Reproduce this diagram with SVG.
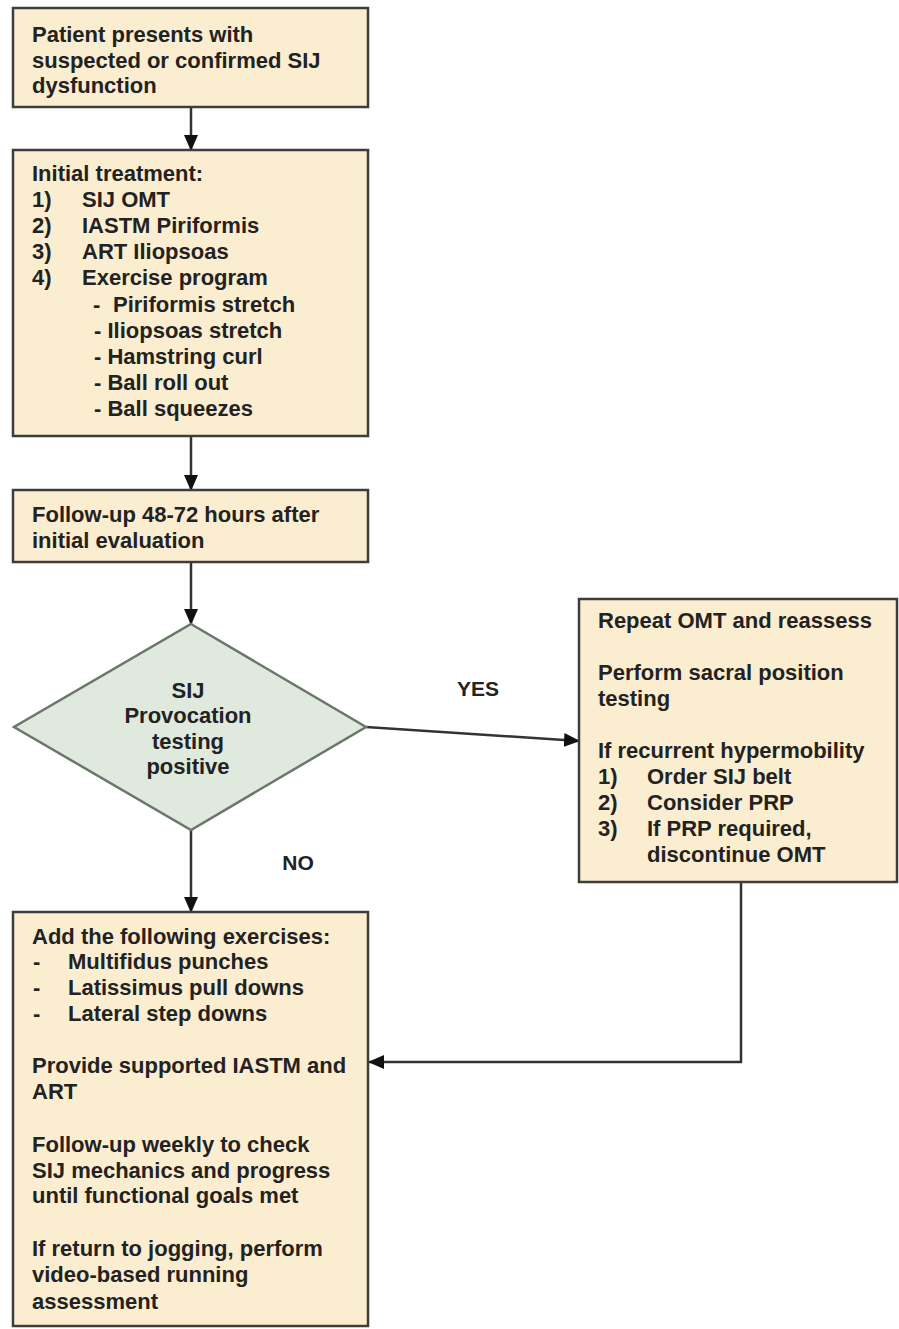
<svg xmlns="http://www.w3.org/2000/svg" width="899" height="1329" viewBox="0 0 899 1329">
<defs>
<style>
.box{fill:#fbedd0;stroke:#3d3d3d;stroke-width:2.5}
.dia{fill:#dfe9dd;stroke:#6b776b;stroke-width:2.5}
.t{font-family:"Liberation Sans",Arial,sans-serif;font-weight:bold;font-size:22px;fill:#222}
.c{text-anchor:middle}
.lbl{font-family:"Liberation Sans",Arial,sans-serif;font-weight:bold;font-size:21px;fill:#222;text-anchor:middle}
.conn{fill:none;stroke:#333;stroke-width:2.5}
</style>
<marker id="arr" markerUnits="userSpaceOnUse" markerWidth="16" markerHeight="14" refX="15" refY="7" orient="auto">
<path d="M0,0 L16,7 L0,14 z" fill="#111"/>
</marker>
</defs>
<rect width="899" height="1329" fill="#fff"/>
<g id="connectors">
<line class="conn" x1="191" y1="107" x2="191" y2="150" marker-end="url(#arr)"/>
<line class="conn" x1="191" y1="436" x2="191" y2="490" marker-end="url(#arr)"/>
<line class="conn" x1="191" y1="562" x2="191" y2="624" marker-end="url(#arr)"/>
<line class="conn" x1="191" y1="830" x2="191" y2="912" marker-end="url(#arr)"/>
<line class="conn" x1="366" y1="727" x2="579" y2="741" marker-end="url(#arr)"/>
<polyline class="conn" points="741,882 741,1062 369,1062" marker-end="url(#arr)"/>
<text class="lbl" x="478" y="696">YES</text>
<text class="lbl" x="298" y="870">NO</text>
</g>
<g id="n1">
<rect class="box" x="13" y="8" width="355" height="99"/>
<text class="t" x="32" y="42">Patient presents with</text>
<text class="t" x="32" y="68">suspected or confirmed SIJ</text>
<text class="t" x="32" y="93">dysfunction</text>
</g>
<g id="n2">
<rect class="box" x="13" y="150" width="355" height="286"/>
<text class="t" x="32" y="181">Initial treatment:</text>
<text class="t" x="32" y="207">1)</text><text class="t" x="82" y="207">SIJ OMT</text>
<text class="t" x="32" y="233">2)</text><text class="t" x="82" y="233">IASTM Piriformis</text>
<text class="t" x="32" y="259">3)</text><text class="t" x="82" y="259">ART Iliopsoas</text>
<text class="t" x="32" y="285">4)</text><text class="t" x="82" y="285">Exercise program</text>
<text class="t" x="93" y="312">-</text><text class="t" x="113" y="312">Piriformis stretch</text>
<text class="t" x="94" y="338">- Iliopsoas stretch</text>
<text class="t" x="94" y="364">- Hamstring curl</text>
<text class="t" x="94" y="390">- Ball roll out</text>
<text class="t" x="94" y="416">- Ball squeezes</text>
</g>
<g id="n3">
<rect class="box" x="13" y="490" width="355" height="72"/>
<text class="t" x="32" y="522">Follow-up 48-72 hours after</text>
<text class="t" x="32" y="548">initial evaluation</text>
</g>
<g id="n4">
<polygon class="dia" points="191,624 366,727 191,830 14,727"/>
<text class="t c" x="188" y="698">SIJ</text>
<text class="t c" x="188" y="723">Provocation</text>
<text class="t c" x="188" y="749">testing</text>
<text class="t c" x="188" y="774">positive</text>
</g>
<g id="n5">
<rect class="box" x="579" y="599" width="318" height="283"/>
<text class="t" x="598" y="628">Repeat OMT and reassess</text>
<text class="t" x="598" y="680">Perform sacral position</text>
<text class="t" x="598" y="706">testing</text>
<text class="t" x="598" y="758">If recurrent hypermobility</text>
<text class="t" x="598" y="784">1)</text><text class="t" x="647" y="784">Order SIJ belt</text>
<text class="t" x="598" y="810">2)</text><text class="t" x="647" y="810">Consider PRP</text>
<text class="t" x="598" y="836">3)</text><text class="t" x="647" y="836">If PRP required,</text>
<text class="t" x="647" y="862">discontinue OMT</text>
</g>
<g id="n6">
<rect class="box" x="13" y="912" width="355" height="414"/>
<text class="t" x="32" y="944">Add the following exercises:</text>
<text class="t" x="33" y="969">-</text><text class="t" x="68" y="969">Multifidus punches</text>
<text class="t" x="33" y="995">-</text><text class="t" x="68" y="995">Latissimus pull downs</text>
<text class="t" x="33" y="1021">-</text><text class="t" x="68" y="1021">Lateral step downs</text>
<text class="t" x="32" y="1073">Provide supported IASTM and</text>
<text class="t" x="32" y="1099">ART</text>
<text class="t" x="32" y="1152">Follow-up weekly to check</text>
<text class="t" x="32" y="1178">SIJ mechanics and progress</text>
<text class="t" x="32" y="1203">until functional goals met</text>
<text class="t" x="32" y="1256">If return to jogging, perform</text>
<text class="t" x="32" y="1282">video-based running</text>
<text class="t" x="32" y="1309">assessment</text>
</g>
</svg>
